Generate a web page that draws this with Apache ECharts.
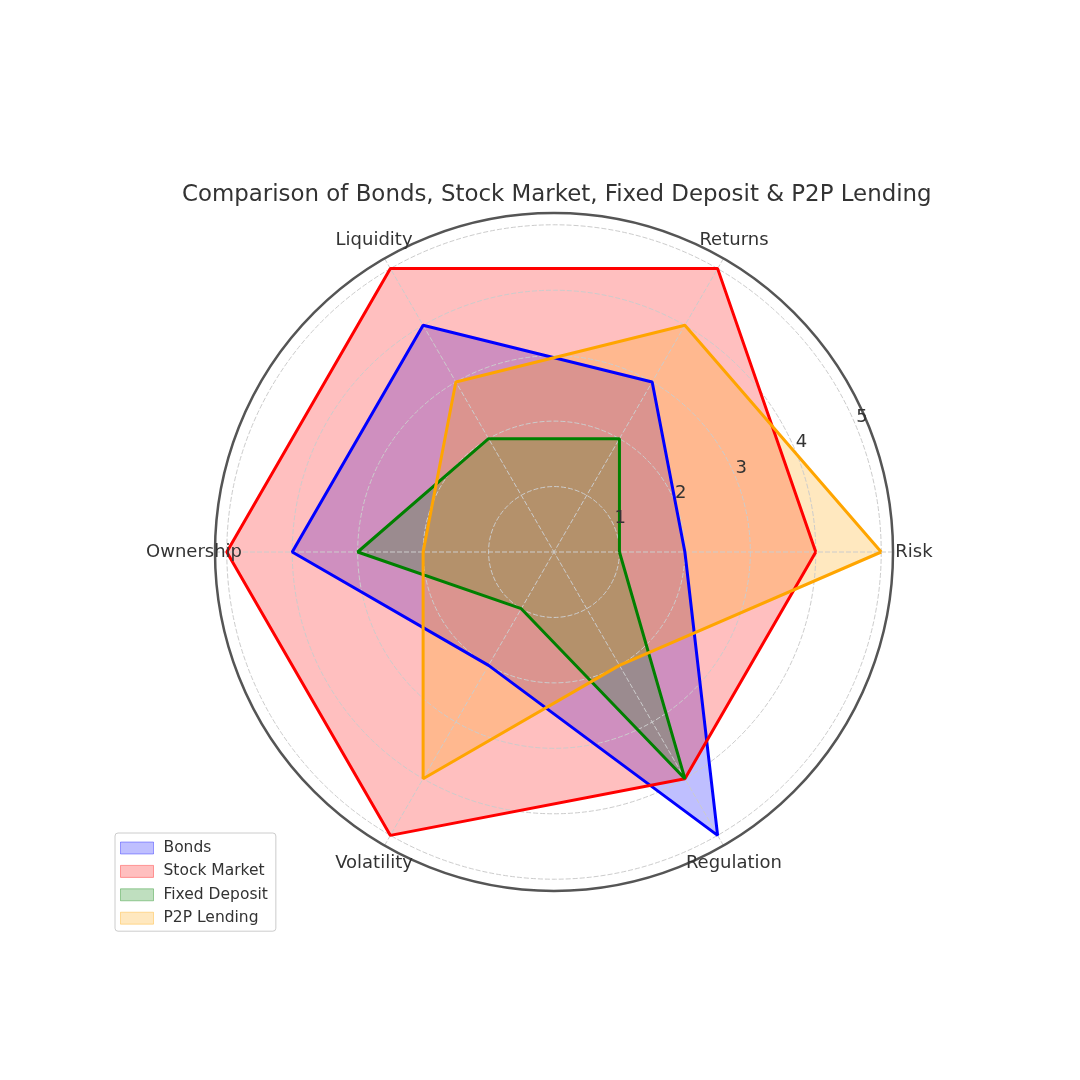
<!DOCTYPE html>
<html>
<head>
<meta charset="utf-8">
<script src="https://cdn.jsdelivr.net/npm/echarts@6/dist/echarts.min.js"></script>
<style>
html,body{margin:0;padding:0;background:#fff;}
#chart{width:1080px;height:1080px;}
</style>
</head>
<body>
<div id="chart"></div>
<script>
const categories = ['Risk', 'Returns', 'Liquidity', 'Ownership', 'Volatility', 'Regulation'];
const seriesNames = ['Bonds', 'Stock Market', 'Fixed Deposit', 'P2P Lending'];
const bonds = [2, 3, 4, 4, 2, 5];
const stockMarket = [4, 5, 5, 5, 5, 4];
const fixedDeposit = [1, 2, 2, 3, 1, 4];
const p2pLending = [5, 4, 3, 2, 4, 2];
const radialTicks = [1, 2, 3, 4, 5];
const radialMax = 5.18;
const categoryLabelRadius = 5.5;

const lineColors = ['#0000ff', '#ff0000', '#008000', '#ffa500'];
const fillColors = ['rgba(0,0,255,0.25)', 'rgba(255,0,0,0.25)', 'rgba(0,128,0,0.25)', 'rgba(255,165,0,0.25)'];
const edgeColors = ['rgba(0,0,255,0.35)', 'rgba(255,0,0,0.35)', 'rgba(0,128,0,0.35)', 'rgba(255,165,0,0.35)'];
const allValues = [bonds, stockMarket, fixedDeposit, p2pLending];

const step = 360 / categories.length;
function toPolar(vals) {
  const pts = vals.map((v, i) => [v, i * step]);
  pts.push([vals[0], 360]);
  return pts;
}

const FONT = 'DejaVu Sans';
const center = [554, 552];
const R = 339;

const series = [];
allValues.forEach((vals, k) => {
  series.push({
    name: seriesNames[k], type: 'line', coordinateSystem: 'polar', polarIndex: 0,
    data: toPolar(vals), symbol: 'none', z: 5,
    lineStyle: { width: 3, color: lineColors[k] },
    itemStyle: { color: lineColors[k] }
  });
});
allValues.forEach((vals, k) => {
  series.push({
    name: seriesNames[k], type: 'line', coordinateSystem: 'polar', polarIndex: 0,
    data: toPolar(vals), symbol: 'none', z: 1, silent: true,
    lineStyle: { width: 0, opacity: 0, color: lineColors[k] },
    itemStyle: { color: lineColors[k] },
    areaStyle: { color: fillColors[k], opacity: 1 }
  });
});
// category labels, centred on their angle, placed through the polar scales
series.push({
  type: 'scatter', coordinateSystem: 'polar', polarIndex: 0, clip: false, silent: true,
  symbolSize: 0, z: 6,
  itemStyle: { opacity: 1 },
  data: categories.map((c, i) => ({ value: [categoryLabelRadius, i * step], name: c })),
  label: {
    show: true, position: 'inside', formatter: p => p.name, opacity: 1,
    fontFamily: FONT, fontSize: 18, color: '#333333', align: 'center', verticalAlign: 'middle'
  }
});

const option = {
  animation: false,
  backgroundColor: '#ffffff',
  textStyle: { fontFamily: FONT },
  title: {
    text: 'Comparison of Bonds, Stock Market, Fixed Deposit & P2P Lending',
    left: 177, top: 179,
    textStyle: { fontFamily: FONT, fontSize: 22.9, fontWeight: 'normal', color: '#333333' }
  },
  legend: {
    orient: 'vertical', left: 115, top: 833,
    padding: [7, 8, 5, 5],
    itemWidth: 33, itemHeight: 12, itemGap: 7.4,
    borderColor: '#cccccc', borderWidth: 1, borderRadius: 3,
    backgroundColor: 'rgba(255,255,255,0.8)',
    textStyle: { fontFamily: FONT, fontSize: 15.5, color: '#333333', padding: [0, 0, 0, 5] },
    data: seriesNames.map((n, k) => ({
      name: n, icon: 'rect',
      itemStyle: { color: fillColors[k], borderColor: edgeColors[k], borderWidth: 1, opacity: 1 }
    }))
  },
  polar: [
    { center: center, radius: R },
    { center: center, radius: R }
  ],
  angleAxis: [
    {
      polarIndex: 0, type: 'value', min: 0, max: 360, interval: step,
      startAngle: 0, clockwise: false, z: 3,
      axisLine: { show: true, lineStyle: { color: '#555555', width: 2.5 } },
      axisTick: { show: false },
      axisLabel: { show: false },
      splitLine: { show: true, lineStyle: { color: '#cccccc', width: 1, type: [5, 2] } }
    },
    {
      polarIndex: 1, type: 'value', min: 0, max: 360, startAngle: 22.5, clockwise: false,
      show: false
    }
  ],
  radiusAxis: [
    {
      polarIndex: 0, type: 'value', min: 0, max: radialMax, interval: 1, z: 3,
      axisLine: { show: false }, axisTick: { show: false }, axisLabel: { show: false },
      splitLine: { show: true, lineStyle: { color: '#cccccc', width: 1, type: [5, 2] } }
    },
    {
      polarIndex: 1, type: 'value', min: 0, max: radialMax, interval: 1, z: 6,
      axisLine: { show: false }, axisTick: { show: false }, splitLine: { show: false },
      axisLabel: {
        show: true, margin: 0, fontFamily: FONT, fontSize: 18, color: '#333333',
        align: 'left', verticalAlign: 'bottom',
        formatter: v => (radialTicks.indexOf(v) >= 0 ? String(v) : '')
      }
    }
  ],
  series: series
};

const chart = echarts.init(document.getElementById('chart'), null, { renderer: 'canvas' });
chart.setOption(option);
</script>
</body>
</html>
